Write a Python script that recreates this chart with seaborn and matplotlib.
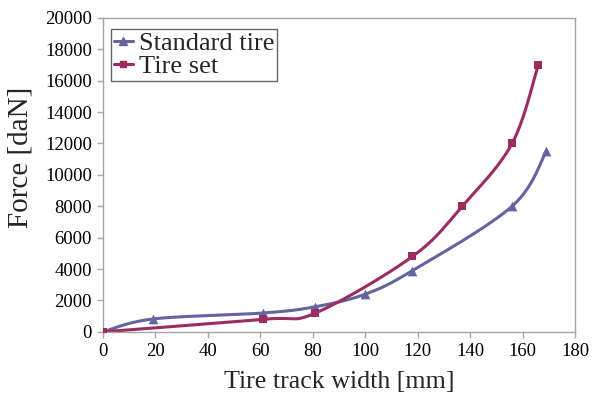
import numpy as np
import pandas as pd
import matplotlib
matplotlib.use("Agg")
import matplotlib.pyplot as plt
import seaborn as sns
from matplotlib.lines import Line2D

# Measured points
std_width = [0, 19, 61, 81, 100, 118, 156, 169]
std_force = [0, 820, 1200, 1600, 2400, 3900, 8000, 11500]
set_width = [0, 61, 81, 118, 137, 156, 166]
set_force = [0, 800, 1200, 4800, 8000, 12000, 17000]

x_ticks = [0, 20, 40, 60, 80, 100, 120, 140, 160, 180]
y_ticks = [0, 2000, 4000, 6000, 8000, 10000, 12000, 14000, 16000, 18000, 20000]

STD_COLOR = "#6464a0"
SET_COLOR = "#9c2c60"


def smooth_curve(xs, ys, n=40):
    """Catmull-Rom style smoothing through every point (spreadsheet 'smoothed line')."""
    xs = np.asarray(xs, float)
    ys = np.asarray(ys, float)
    px = np.concatenate([[xs[0]], xs, [xs[-1]]])
    py = np.concatenate([[ys[0]], ys, [ys[-1]]])
    out_x, out_y = [], []
    t = np.linspace(0, 1, n)
    for i in range(1, len(px) - 2):
        p0x, p1x, p2x, p3x = px[i - 1], px[i], px[i + 1], px[i + 2]
        p0y, p1y, p2y, p3y = py[i - 1], py[i], py[i + 1], py[i + 2]
        c1x = p1x + (p2x - p0x) / 6
        c1y = p1y + (p2y - p0y) / 6
        c2x = p2x - (p3x - p1x) / 6
        c2y = p2y - (p3y - p1y) / 6
        bx = (1 - t) ** 3 * p1x + 3 * (1 - t) ** 2 * t * c1x + 3 * (1 - t) * t ** 2 * c2x + t ** 3 * p2x
        by = (1 - t) ** 3 * p1y + 3 * (1 - t) ** 2 * t * c1y + 3 * (1 - t) * t ** 2 * c2y + t ** 3 * p2y
        out_x.extend(bx)
        out_y.extend(by)
    return np.array(out_x), np.array(out_y)


sns.set_theme(style="white")
plt.rcParams["font.family"] = ["Liberation Serif", "DejaVu Serif"]

fig = plt.figure(figsize=(5.99, 3.96), dpi=100)
ax = fig.add_axes([0.172, 0.162, 0.788, 0.793])

for xs, ys, color, marker, msize in [
    (std_width, std_force, STD_COLOR, "^", 7),
    (set_width, set_force, SET_COLOR, "s", 6),
]:
    cx, cy = smooth_curve(xs, ys)
    curve = pd.DataFrame({"x": cx, "y": cy})
    sns.lineplot(data=curve, x="x", y="y", sort=False, color=color, lw=2.2,
                 ax=ax, estimator=None)
    pts = pd.DataFrame({"x": xs, "y": ys})
    sns.scatterplot(data=pts, x="x", y="y", marker=marker, s=msize ** 2,
                    color=color, edgecolor=color, linewidth=0, ax=ax, zorder=5)

ax.set_xlim(0, 180)
ax.set_ylim(0, 20000)
ax.set_xticks(x_ticks)
ax.set_yticks(y_ticks)
ax.set_xticklabels([str(v) for v in x_ticks], fontsize=13.5)
ax.set_yticklabels([str(v) for v in y_ticks], fontsize=13.5)
ax.set_xlabel("Tire track width [mm]", fontsize=18.7)
ax.set_ylabel("Force [daN]", fontsize=21)
ax.xaxis.set_label_coords(0.5, -0.125)
ax.yaxis.set_label_coords(-0.148, 0.557)

for side in ["left", "right", "top", "bottom"]:
    ax.spines[side].set_visible(True)
    ax.spines[side].set_color("#a6a6a6")
    ax.spines[side].set_linewidth(1.0)
ax.tick_params(axis="both", which="major", direction="out", length=4,
               color="#a6a6a6", width=1.0, pad=4, labelcolor="black")
ax.xaxis.set_ticks_position("bottom")
ax.yaxis.set_ticks_position("left")

handles = [
    Line2D([], [], color=STD_COLOR, lw=2.2, marker="^", ms=6),
    Line2D([], [], color=SET_COLOR, lw=2.2, marker="s", ms=5),
]
leg = ax.legend(handles, ["Standard tire", "Tire set"], loc="upper left",
                bbox_to_anchor=(0.0, 0.99), fontsize=19, frameon=True,
                fancybox=False, handlelength=0.75, handletextpad=0.2,
                borderpad=0.1, labelspacing=0.0, borderaxespad=0.3)
leg.get_frame().set_edgecolor("#404040")
leg.get_frame().set_linewidth(1.0)

fig.savefig("out.png", dpi=100)
